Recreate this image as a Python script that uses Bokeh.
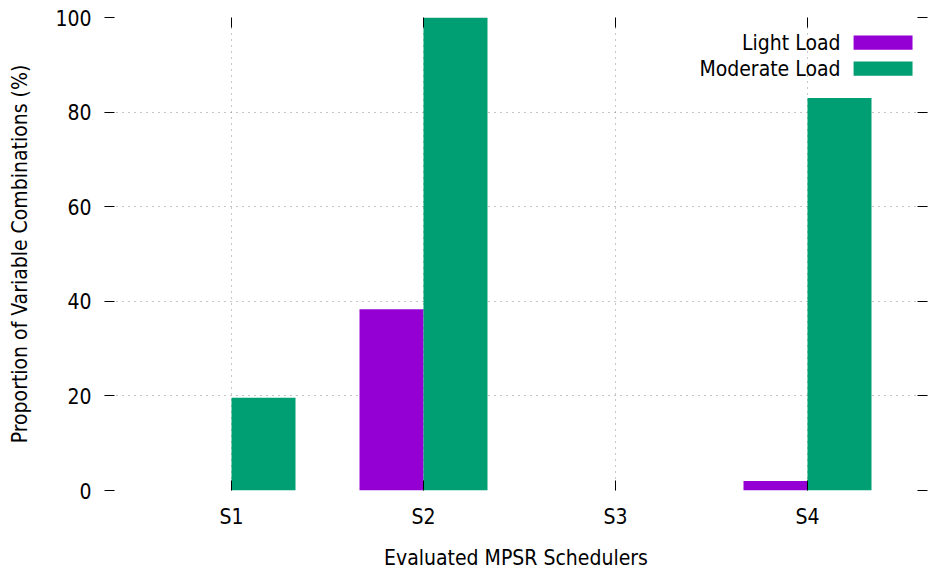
import numpy as np
from bokeh.plotting import figure
from bokeh.models import Range1d, FixedTicker, LinearAxis, Label
from bokeh.embed import file_html
from bokeh.resources import INLINE

# ---- data ----
schedulers = ["S1", "S2", "S3", "S4"]
light_load = [0.0, 38.3, 0.0, 2.0]
moderate_load = [19.6, 100.0, 0.0, 83.0]
y_ticks = [0, 20, 40, 60, 80, 100]
series_names = ["Light Load", "Moderate Load"]
series_colors = ["#9400D3", "#009E73"]

FONT = "DejaVu Sans Condensed"
FS = "21px"

idx = np.arange(len(schedulers))
bw = 1.0 / 3.0

p = figure(width=928, height=572, output_backend="svg", toolbar_location=None,
           x_range=Range1d(-0.6615, 3.625), y_range=Range1d(0, 100),
           min_border_left=104, min_border_right=1, min_border_top=17,
           min_border_bottom=82)
p.outline_line_color = None
p.background_fill_color = "white"

p.vbar(x=idx - bw / 2, top=light_load, width=bw, bottom=0,
       fill_color=series_colors[0], line_color=None)
p.vbar(x=idx + bw / 2, top=moderate_load, width=bw, bottom=0,
       fill_color=series_colors[1], line_color=None)

xt = FixedTicker(ticks=list(idx))
yt = FixedTicker(ticks=y_ticks)

def style(ax):
    ax.axis_line_color = None
    ax.major_tick_in = 10
    ax.major_tick_out = 0
    ax.major_tick_line_color = "black"
    ax.major_tick_line_width = 1
    ax.minor_tick_line_color = None
    ax.major_label_text_font = FONT
    ax.major_label_text_font_size = FS
    ax.major_label_text_color = "black"
    ax.axis_label_text_font = FONT
    ax.axis_label_text_font_size = FS
    ax.axis_label_text_font_style = "normal"
    ax.axis_label_text_color = "black"

xa = p.xaxis[0]
xa.ticker = xt
xa.major_label_overrides = {int(i): s for i, s in zip(idx, schedulers)}
xa.axis_label = "Evaluated MPSR Schedulers"
style(xa)
xa.major_label_standoff = 14
xa.axis_label_standoff = 14

ya = p.yaxis[0]
ya.ticker = yt
ya.axis_label = "Proportion of Variable Combinations (%)"
style(ya)
ya.major_label_standoff = 13
ya.axis_label_standoff = 20

top_ax = LinearAxis(ticker=xt, major_label_overrides={int(i): "" for i in idx})
style(top_ax)
top_ax.major_label_standoff = 0
p.add_layout(top_ax, "above")
right_ax = LinearAxis(ticker=yt, major_label_overrides={t: "" for t in y_ticks})
style(right_ax)
right_ax.major_label_standoff = 0
p.add_layout(right_ax, "right")

for g in (p.xgrid[0], p.ygrid[0]):
    g.grid_line_color = "#8c8c8c"
    g.grid_line_dash = "1 5"
    g.grid_line_width = 1
p.xgrid[0].ticker = xt
p.ygrid[0].ticker = yt

# ---- legend (label left of swatch, gnuplot style) ----
leg_text_x = 3.172
leg_sw_left, leg_sw_right = 3.240, 3.547
leg_rows_y = [94.7, 89.2]
leg_half_h = 1.5
for name, col, yy in zip(series_names, series_colors, leg_rows_y):
    p.add_layout(Label(x=leg_text_x, y=yy, text=name, text_align="right",
                       text_baseline="middle", text_font=FONT,
                       text_font_size=FS, text_color="black"))
    p.quad(left=[leg_sw_left], right=[leg_sw_right], bottom=[yy - leg_half_h],
           top=[yy + leg_half_h], fill_color=col, line_color=None)

open("out.html", "w").write(file_html(p, INLINE))
